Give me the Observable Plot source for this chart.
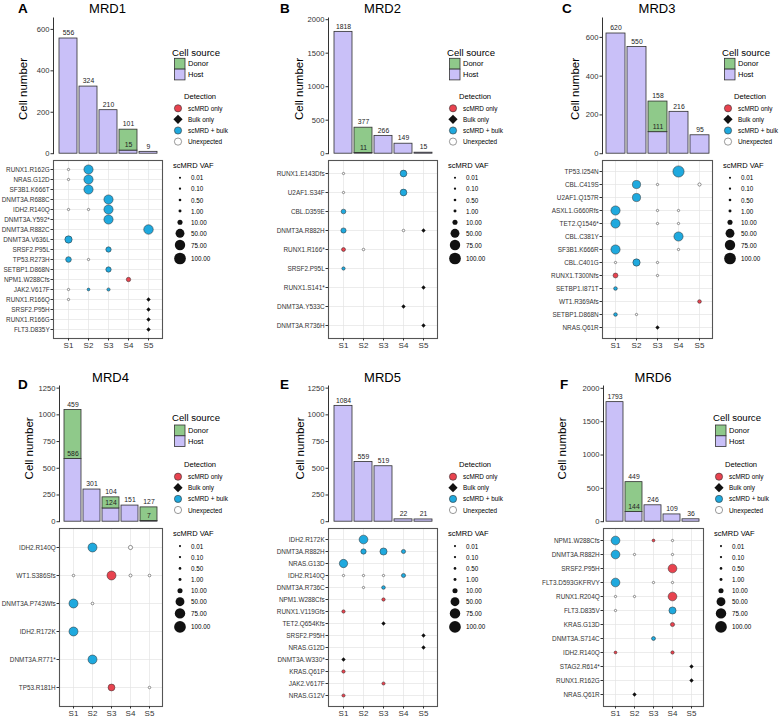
<!DOCTYPE html>
<html><head><meta charset="utf-8">
<script src="https://cdn.jsdelivr.net/npm/d3@7"></script>
<script src="https://cdn.jsdelivr.net/npm/@observablehq/plot@0.6"></script>
<style>
body{margin:0;background:#fff;}
#root{position:relative;width:780px;height:718px;overflow:hidden;background:#fff;font-family:'Liberation Sans',Arial,Helvetica,sans-serif;}
</style></head><body><div id="root"></div>
<script>
// ---------- DATA ----------
const samples = ["S1","S2","S3","S4","S5"];
const sources = ["Donor","Host"];
const detections = ["scMRD only","Bulk only","scMRD + bulk","Unexpected"];
const vafLevels = [0.01,0.1,0.5,1,10,50,75,100];
const vafLabels = ["0.01","0.10","0.50","1.00","10.00","50.00","75.00","100.00"];
const ticks600 = [0,200,400,600];
const ticks1250 = [0,250,500,750,1000,1250];
const ticks2000 = [0,500,1000,1500,2000];

const mrd1Host = [556,324,210,15,9];
const mrd1Donor = [0,0,0,101,0];
const mrd2Host = [1818,11,266,149,15];
const mrd2Donor = [0,377,0,0,0];
const mrd3Host = [620,550,111,216,95];
const mrd3Donor = [0,0,158,0,0];
const mrd4Host = [586,301,124,151,7];
const mrd4Donor = [459,0,104,0,127];
const mrd5Host = [1084,559,519,22,21];
const mrd5Donor = [0,0,0,0,0];
const mrd6Host = [1793,144,246,109,36];
const mrd6Donor = [0,449,0,0,0];

const mrd1Mutations = ["RUNX1.R162G","NRAS.G12D","SF3B1.K666T","DNMT3A.R688C","IDH2.R140Q","DNMT3A.Y592*","DNMT3A.R882C","DNMT3A.V636L","SRSF2.P95L","TP53.R273H","SETBP1.D868N","NPM1.W288Cfs","JAK2.V617F","RUNX1.R166Q","SRSF2.P95H","RUNX1.R166G","FLT3.D835Y"];
const mrd1Calls = [
 ["RUNX1.R162G","S1","Unexpected",0.1],["RUNX1.R162G","S2","scMRD + bulk",55],
 ["NRAS.G12D","S1","Unexpected",0.1],["NRAS.G12D","S2","scMRD + bulk",55],
 ["SF3B1.K666T","S2","scMRD + bulk",55],
 ["DNMT3A.R688C","S3","scMRD + bulk",55],
 ["IDH2.R140Q","S1","Unexpected",0.1],["IDH2.R140Q","S2","Unexpected",0.1],["IDH2.R140Q","S3","scMRD + bulk",55],
 ["DNMT3A.Y592*","S3","scMRD + bulk",55],
 ["DNMT3A.R882C","S5","scMRD + bulk",60],
 ["DNMT3A.V636L","S1","scMRD + bulk",30],
 ["SRSF2.P95L","S3","scMRD + bulk",12],
 ["TP53.R273H","S1","scMRD + bulk",14],["TP53.R273H","S2","Unexpected",0.1],
 ["SETBP1.D868N","S3","scMRD + bulk",12],
 ["NPM1.W288Cfs","S4","scMRD only",6],
 ["JAK2.V617F","S1","Unexpected",0.1],["JAK2.V617F","S2","scMRD + bulk",0.6],["JAK2.V617F","S3","scMRD + bulk",1.5],
 ["RUNX1.R166Q","S1","Unexpected",0.1],["RUNX1.R166Q","S5","Bulk only",null],
 ["SRSF2.P95H","S5","Bulk only",null],
 ["RUNX1.R166G","S5","Bulk only",null],
 ["FLT3.D835Y","S5","Bulk only",null]
];

const mrd2Mutations = ["RUNX1.E143Dfs","U2AF1.S34F","CBL.D359E","DNMT3A.R882H","RUNX1.R166*","SRSF2.P95L","RUNX1.S141*","DNMT3A.Y533C","DNMT3A.R736H"];
const mrd2Calls = [
 ["RUNX1.E143Dfs","S1","Unexpected",0.1],["RUNX1.E143Dfs","S4","scMRD + bulk",24],
 ["U2AF1.S34F","S1","Unexpected",0.1],["U2AF1.S34F","S4","scMRD + bulk",24],
 ["CBL.D359E","S1","scMRD + bulk",8],
 ["DNMT3A.R882H","S1","scMRD + bulk",11],["DNMT3A.R882H","S4","Unexpected",0.3],["DNMT3A.R882H","S5","Bulk only",null],
 ["RUNX1.R166*","S1","scMRD only",4],["RUNX1.R166*","S2","Unexpected",0.3],
 ["SRSF2.P95L","S1","scMRD + bulk",2],
 ["RUNX1.S141*","S5","Bulk only",null],
 ["DNMT3A.Y533C","S4","Bulk only",null],
 ["DNMT3A.R736H","S5","Bulk only",null]
];

const mrd3Mutations = ["TP53.I254N","CBL.C419S","U2AF1.Q157R","ASXL1.G660Rfs","TET2.Q1546*","CBL.C381Y","SF3B1.K666R","CBL.C401G","RUNX1.T300Nfs","SETBP1.I871T","WT1.R369Afs","SETBP1.D868N","NRAS.Q61R"];
const mrd3Calls = [
 ["TP53.I254N","S4","scMRD + bulk",90],
 ["CBL.C419S","S2","scMRD + bulk",40],["CBL.C419S","S3","Unexpected",0.1],["CBL.C419S","S5","Unexpected",1.5],
 ["U2AF1.Q157R","S2","scMRD + bulk",40],
 ["ASXL1.G660Rfs","S1","scMRD + bulk",55],["ASXL1.G660Rfs","S3","Unexpected",0.1],["ASXL1.G660Rfs","S4","Unexpected",0.1],
 ["TET2.Q1546*","S1","scMRD + bulk",55],["TET2.Q1546*","S3","Unexpected",0.1],["TET2.Q1546*","S4","Unexpected",0.1],
 ["CBL.C381Y","S4","scMRD + bulk",55],
 ["SF3B1.K666R","S1","scMRD + bulk",55],["SF3B1.K666R","S4","Unexpected",0.1],
 ["CBL.C401G","S1","Unexpected",0.1],["CBL.C401G","S2","scMRD + bulk",30],["CBL.C401G","S3","Unexpected",0.1],
 ["RUNX1.T300Nfs","S1","scMRD only",9],["RUNX1.T300Nfs","S3","Unexpected",0.1],
 ["SETBP1.I871T","S1","scMRD + bulk",3],
 ["WT1.R369Afs","S5","scMRD only",3],
 ["SETBP1.D868N","S1","scMRD + bulk",3],["SETBP1.D868N","S2","Unexpected",0.1],
 ["NRAS.Q61R","S3","Bulk only",null]
];

const mrd4Mutations = ["IDH2.R140Q","WT1.S386Sfs","DNMT3A.P743Wfs","IDH2.R172K","DNMT3A.R771*","TP53.R181H"];
const mrd4Calls = [
 ["IDH2.R140Q","S2","scMRD + bulk",52],["IDH2.R140Q","S4","Unexpected",5],
 ["WT1.S386Sfs","S1","Unexpected",0.3],["WT1.S386Sfs","S3","scMRD only",52],["WT1.S386Sfs","S4","Unexpected",1],["WT1.S386Sfs","S5","Unexpected",0.5],
 ["DNMT3A.P743Wfs","S1","scMRD + bulk",52],["DNMT3A.P743Wfs","S2","Unexpected",0.5],
 ["IDH2.R172K","S1","scMRD + bulk",52],
 ["DNMT3A.R771*","S2","scMRD + bulk",52],
 ["TP53.R181H","S3","scMRD only",25],["TP53.R181H","S5","Unexpected",0.3]
];

const mrd5Mutations = ["IDH2.R172K","DNMT3A.R882H","NRAS.G13D","IDH2.R140Q","DNMT3A.R736C","NPM1.W288Cfs","RUNX1.V119Gfs","TET2.Q654Kfs","SRSF2.P95H","NRAS.G12D","DNMT3A.W330*","KRAS.Q61P","JAK2.V617F","NRAS.G12V"];
const mrd5Calls = [
 ["IDH2.R172K","S2","scMRD + bulk",48],
 ["DNMT3A.R882H","S2","scMRD + bulk",12],["DNMT3A.R882H","S3","scMRD + bulk",28],["DNMT3A.R882H","S4","scMRD + bulk",5],
 ["NRAS.G13D","S1","scMRD + bulk",42],
 ["IDH2.R140Q","S1","Unexpected",0.1],["IDH2.R140Q","S2","Unexpected",0.1],["IDH2.R140Q","S3","Unexpected",0.1],["IDH2.R140Q","S4","scMRD + bulk",5],
 ["DNMT3A.R736C","S2","Unexpected",0.1],["DNMT3A.R736C","S3","scMRD + bulk",3],
 ["NPM1.W288Cfs","S3","scMRD only",2],
 ["RUNX1.V119Gfs","S1","scMRD only",2],
 ["TET2.Q654Kfs","S3","Bulk only",null],
 ["SRSF2.P95H","S5","Bulk only",null],
 ["NRAS.G12D","S5","Bulk only",null],
 ["DNMT3A.W330*","S1","Bulk only",null],
 ["KRAS.Q61P","S1","scMRD only",2],
 ["JAK2.V617F","S3","scMRD only",1.5],
 ["NRAS.G12V","S1","scMRD only",1.5]
];

const mrd6Mutations = ["NPM1.W288Cfs","DNMT3A.R882H","SRSF2.P95H","FLT3.D593GKFRVY","RUNX1.R204Q","FLT3.D835V","KRAS.G13D","DNMT3A.S714C","IDH2.R140Q","STAG2.R614*","RUNX1.R162G","NRAS.Q61R"];
const mrd6Calls = [
 ["NPM1.W288Cfs","S1","scMRD + bulk",48],["NPM1.W288Cfs","S3","scMRD only",0.8],["NPM1.W288Cfs","S4","Unexpected",0.1],
 ["DNMT3A.R882H","S1","scMRD + bulk",48],["DNMT3A.R882H","S2","Unexpected",0.1],["DNMT3A.R882H","S4","Unexpected",0.1],
 ["SRSF2.P95H","S4","scMRD only",48],
 ["FLT3.D593GKFRVY","S1","scMRD + bulk",48],["FLT3.D593GKFRVY","S3","Unexpected",0.1],["FLT3.D593GKFRVY","S4","Unexpected",0.1],
 ["RUNX1.R204Q","S1","Unexpected",0.1],["RUNX1.R204Q","S2","Unexpected",0.1],["RUNX1.R204Q","S4","scMRD only",48],
 ["FLT3.D835V","S1","Unexpected",0.1],["FLT3.D835V","S4","scMRD + bulk",28],
 ["KRAS.G13D","S4","scMRD only",5],
 ["DNMT3A.S714C","S3","scMRD + bulk",4],
 ["IDH2.R140Q","S1","scMRD only",0.8],["IDH2.R140Q","S4","scMRD only",2],
 ["STAG2.R614*","S5","Bulk only",null],
 ["RUNX1.R162G","S5","Bulk only",null],
 ["NRAS.Q61R","S2","Bulk only",null]
];

// ---------- STYLE / LAYOUT ----------
const FONT = "'Liberation Sans', Arial, Helvetica, sans-serif";
const DONOR = "#8fc98a", HOST = "#c9c0f8";
const DET_COLORS = ["#e8434f","#111111","#1fa9de","#ffffff"];
const R0 = 1, R1 = 5.85;
const rScale = d3.scaleSqrt().domain([0,100]).range([R0,R1]);

const panels = [
 {letter:"A", title:"MRD1", host:mrd1Host, donor:mrd1Donor, ticks:ticks600, muts:mrd1Mutations, calls:mrd1Calls, yMax:655, ox:0, oy:0, pl:53, pw:109, letterX:18, cellX:23.3, cellLegend:true},
 {letter:"B", title:"MRD2", host:mrd2Host, donor:mrd2Donor, ticks:ticks2000, muts:mrd2Mutations, calls:mrd2Calls, yMax:2025, ox:260, oy:0, pl:328, pw:109, letterX:280, cellX:299, cellLegend:true},
 {letter:"C", title:"MRD3", host:mrd3Host, donor:mrd3Donor, ticks:ticks600, muts:mrd3Mutations, calls:mrd3Calls, yMax:700, ox:520, oy:0, pl:602, pw:110, letterX:562, cellX:574.5, cellLegend:true},
 {letter:"D", title:"MRD4", host:mrd4Host, donor:mrd4Donor, ticks:ticks1250, muts:mrd4Mutations, calls:mrd4Calls, yMax:1270, ox:0, oy:368.4, pl:59, pw:103, letterX:18, cellX:28.7, cellLegend:true},
 {letter:"E", title:"MRD5", host:mrd5Host, donor:mrd5Donor, ticks:ticks1250, muts:mrd5Mutations, calls:mrd5Calls, yMax:1270, ox:260, oy:368.4, pl:328, pw:109, letterX:280, cellX:300.5, cellLegend:false},
 {letter:"F", title:"MRD6", host:mrd6Host, donor:mrd6Donor, ticks:ticks2000, muts:mrd6Mutations, calls:mrd6Calls, yMax:2035, ox:520, oy:368.4, pl:603, pw:100, letterX:560, cellX:561.7, cellLegend:true}
];

const root = document.getElementById("root");
const overlay = d3.select(root).append("svg")
  .attr("width",780).attr("height",718)
  .style("position","absolute").style("left","0px").style("top","0px")
  .style("z-index",2).style("font-family",FONT).style("overflow","visible");

function txt(x,y,s,o={}) {
  const t = overlay.append("text").attr("x",x).attr("y",y).text(s)
    .attr("font-size",o.size||8).attr("fill",o.fill||"#000")
    .attr("text-anchor",o.anchor||"start")
    .attr("dominant-baseline",o.baseline||"central");
  if (o.weight) t.attr("font-weight",o.weight);
  if (o.rotate) t.attr("transform",`rotate(${o.rotate},${x},${y})`);
  return t;
}
function place(node,x,y){
  node.style.position="absolute"; node.style.left=x+"px"; node.style.top=y+"px";
  root.appendChild(node);
}

function drawPanel(p) {
  const oy = p.oy, row2 = oy > 0;
  // ----- bar chart -----
  const rows = [];
  samples.forEach((s,i)=>{
    if (p.host[i]>0) rows.push({sample:s, source:"Host", n:p.host[i]});
    if (p.donor[i]>0) rows.push({sample:s, source:"Donor", n:p.donor[i]});
  });
  const mlB = 40;
  const bar = Plot.plot({
    width: p.pw + mlB + 4, height: 155,
    marginLeft: mlB, marginRight: 4, marginTop: 17.5, marginBottom: 1.8,
    style: {fontFamily: FONT, color: "#333", background: "none", overflow: "visible"},
    x: {type:"band", domain: samples, paddingInner: 0.1, paddingOuter: 0.15, axis: null},
    y: {domain: [0, p.yMax]},
    color: {domain: sources, range: [DONOR, HOST]},
    marks: [
      Plot.barY(rows, {x:"sample", y:"n", z:"source", fill:"source", stroke:"#2e2e2e", strokeWidth:0.8}),
      Plot.text(rows, Plot.stackY2({x:"sample", y:"n", z:"source", text: d => String(d.n), dy:-5.5, fontSize:6.8, fill:"#222"})),
      Plot.axisY({ticks: p.ticks, tickFormat: d => String(d), tickSize:2.5, tickPadding:1.5, fontSize:7.6, label:null}),
      Plot.frame({anchor:"left", stroke:"#333"})
    ]
  });
  place(bar, p.pl - mlB, oy);

  // ----- dot chart -----
  const calls = p.calls.map(([mutation, sample, det, vaf]) => ({mutation, sample, det, vaf}));
  const mlD = 95;
  const dot = Plot.plot({
    width: p.pw + mlD + 2, height: 200,
    marginLeft: mlD, marginRight: 2, marginTop: 5, marginBottom: 17,
    style: {fontFamily: FONT, color: "#333", background: "none", overflow: "visible"},
    x: {type:"point", domain: samples, padding: 0.6},
    y: {type:"point", domain: p.muts, padding: 0.6},
    r: {type:"sqrt", domain:[0,100], range:[R0,R1]},
    color: {domain: detections, range: DET_COLORS},
    marks: [
      Plot.gridX({stroke:"#e4e4e4", strokeOpacity:1, strokeWidth:0.7}),
      Plot.gridY({stroke:"#e4e4e4", strokeOpacity:1, strokeWidth:0.7}),
      Plot.frame({stroke:"#555", strokeWidth:1.1}),
      Plot.dot(calls.filter(c => c.det !== "Bulk only"), {x:"sample", y:"mutation", r:"vaf", fill:"det", stroke:"#2a2a2a", strokeWidth:0.5}),
      Plot.dot(calls.filter(c => c.det === "Bulk only"), {x:"sample", y:"mutation", r:1.7, symbol:"diamond2", fill:"det", stroke:"det", strokeWidth:0.4}),
      Plot.axisX({tickSize:2.5, tickPadding:1.5, fontSize:8, label:null}),
      Plot.axisY({tickSize:2.5, tickPadding:1.3, fontSize:6.4, label:null})
    ]
  });
  place(dot, p.pl - mlD, oy + 155);

  // ----- annotations -----
  txt(p.letterX, row2 ? 389.3 : 12.7, p.letter, {size:13.5, weight:"bold", baseline:"auto"});
  txt(p.pl + p.pw/2, row2 ? 381.7 : 13.3, p.title, {size:13, anchor:"middle", baseline:"auto"});
  txt(p.cellX, oy + (row2 ? 80 : 89), "Cell number", {size:11.5, anchor:"middle", rotate:-90});

  const L = p.pl + p.pw + 10;
  if (p.cellLegend) {
    const ty = oy + (row2 ? 49.4 : 52), sy = oy + (row2 ? 56.6 : 58.3);
    txt(L, ty, "Cell source", {size:9.6});
    sources.forEach((s,i)=>{
      overlay.append("rect").attr("x",L+2.5).attr("y",sy + i*10.8).attr("width",10.5).attr("height",10.8)
        .attr("fill", i===0 ? DONOR : HOST).attr("stroke","#333").attr("stroke-width",0.8);
      txt(L+16, sy + i*10.8 + 5.4, s, {size:7.5});
    });
  }
  txt(L+12, oy+96, "Detection", {size:7.6});
  const dy = [108.3,119.3,130.5,141.6];
  detections.forEach((d,i)=>{
    const cx = L+6, cy = oy+dy[i];
    if (d === "Bulk only") {
      overlay.append("path").attr("d",`M${cx},${cy-4.6}L${cx+4.6},${cy}L${cx},${cy+4.6}L${cx-4.6},${cy}Z`).attr("fill","#111");
    } else {
      overlay.append("circle").attr("cx",cx).attr("cy",cy).attr("r",3.6)
        .attr("fill",DET_COLORS[i]).attr("stroke", d==="Unexpected" ? "#555" : "#333").attr("stroke-width",0.6);
    }
    txt(L+16, cy, d, {size:6.4});
  });
  txt(L+1, oy+165, "scMRD VAF", {size:7.5});
  const vy = [177.7,188.7,200,211,222.3,233.3,245,258.5];
  vafLevels.forEach((v,i)=>{
    overlay.append("circle").attr("cx",L+8).attr("cy",oy+vy[i]).attr("r",rScale(v)).attr("fill","#111");
    txt(L+19, oy+vy[i], vafLabels[i], {size:6.3});
  });
}

panels.forEach(drawPanel);
</script></body></html>
